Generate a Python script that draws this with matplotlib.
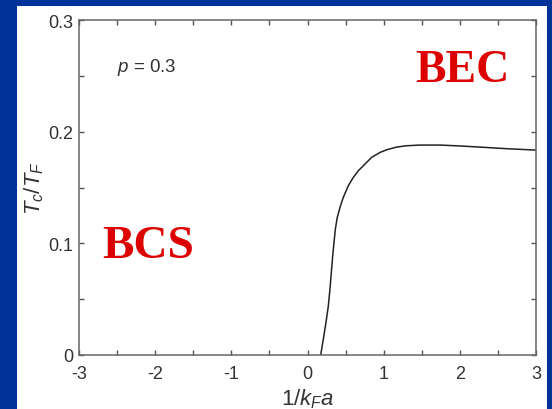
import matplotlib
matplotlib.use("Agg")
import matplotlib.pyplot as plt
from matplotlib.patches import Rectangle

# data
inv_kfa = [0.173, 0.208, 0.243, 0.274, 0.295, 0.313, 0.331, 0.348, 0.366, 0.391,
           0.427, 0.470, 0.536, 0.601, 0.667, 0.755, 0.842, 0.952, 1.04, 1.17,
           1.30, 1.48, 1.74, 2.00, 2.31, 2.60, 3.00]
tc_tf = [0.000, 0.0143, 0.0293, 0.0442, 0.0591, 0.074, 0.0889, 0.1009, 0.1128,
         0.1233, 0.1322, 0.1412, 0.1516, 0.159, 0.165, 0.171, 0.177, 0.1814,
         0.1838, 0.1862, 0.1874, 0.1880, 0.1880, 0.1872, 0.1860, 0.1848, 0.1835]
xticks = [-3, -2, -1, 0, 1, 2, 3]
yticks = [0, 0.1, 0.2, 0.3]
yticklabels = ['0', '0.1', '0.2', '0.3']

plt.rcParams['font.family'] = 'Liberation Sans'
plt.rcParams['axes.unicode_minus'] = False
plt.rcParams['mathtext.fontset'] = 'custom'
plt.rcParams['mathtext.rm'] = 'Liberation Sans'
plt.rcParams['mathtext.it'] = 'Liberation Sans:italic'

fig = plt.figure(figsize=(5.52, 4.10), dpi=100)
fig.patch.set_facecolor('#003399')
# white slide panel, behind the axes
fig.patches.append(Rectangle((17/552, 0), 530/552, 403/410, transform=fig.transFigure,
                             facecolor='white', edgecolor='none', zorder=-10))

ax = fig.add_axes([79/552, 54/410, 457/552, 335/410])
ax.set_zorder(5)
ax.set_facecolor('white')
ax.plot(inv_kfa, tc_tf, color='#222222', lw=1.1)

ax.set_xlim(-3, 3)
ax.set_ylim(0, 0.3)
ax.set_xticks(xticks)
ax.set_xticks([-2.5, -1.5, -0.5, 0.5, 1.5, 2.5], minor=True)
ax.set_yticks(yticks)
ax.set_yticklabels(yticklabels)
ax.set_yticks([0.05, 0.15, 0.25], minor=True)
for which in ('major', 'minor'):
    ax.tick_params(which=which, direction='in', length=3.8, width=1, color='#555555',
                   top=True, right=True)
ax.tick_params(which='major', labelsize=13, labelcolor='#333333')
ax.tick_params(axis='x', which='major', pad=7.5)
ax.tick_params(axis='y', which='major', pad=4)
for s in ax.spines.values():
    s.set_color('#666666')
    s.set_linewidth(1.1)

ax.set_xlabel(r'$1/k_F a$', fontsize=16, color='#333333', labelpad=3)
ax.set_ylabel(r'$T_c/T_F$', fontsize=16, color='#333333', labelpad=2)

ax.text(-2.5, 0.258, r'$p$ = 0.3', fontsize=13.5, color='#333333', va='center')
ax.text(1.42, 0.2455, 'BEC', fontsize=33, color='#dd0000', fontweight='bold',
        family='Liberation Serif', va='baseline')
ax.text(-2.69, 0.0875, 'BCS', fontsize=34, color='#dd0000', fontweight='bold',
        family='Liberation Serif', va='baseline')

fig.savefig('out.png', dpi=100, facecolor=fig.get_facecolor())
